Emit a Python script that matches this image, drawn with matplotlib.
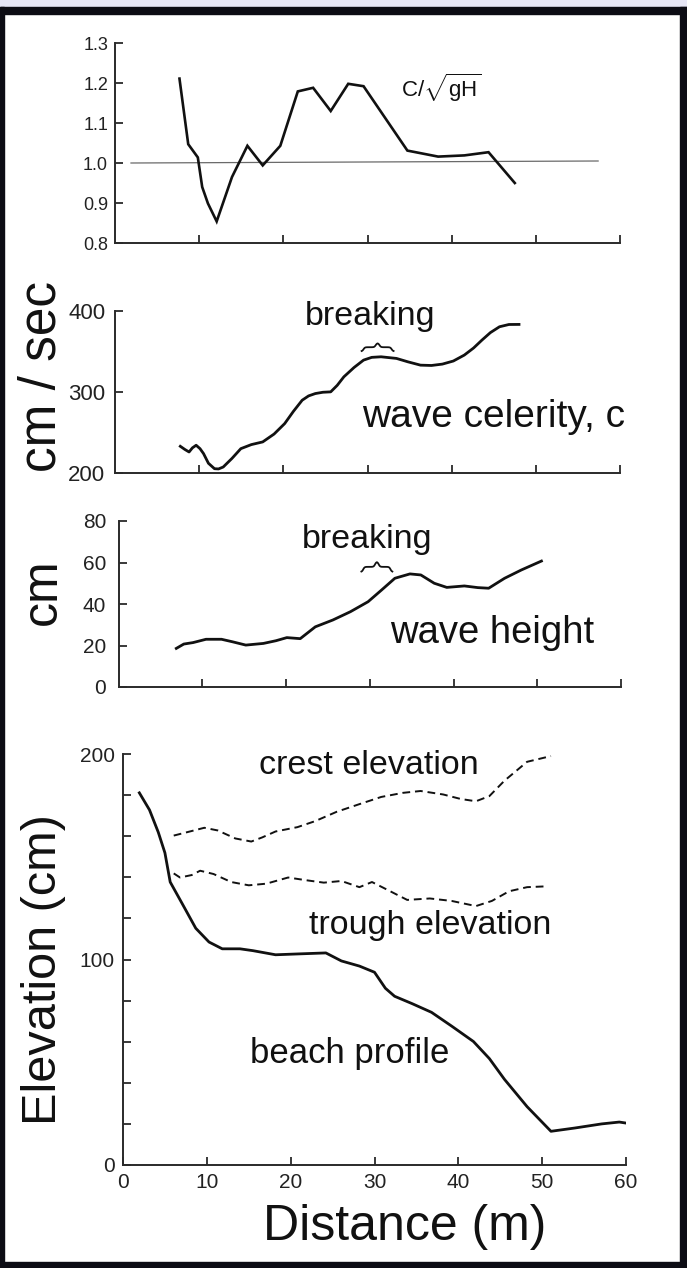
import numpy as np
import matplotlib.pyplot as plt
from matplotlib.patches import Rectangle

plt.rcParams['font.family'] = ['Liberation Sans', 'DejaVu Sans']
plt.rcParams['mathtext.fontset'] = 'custom'
plt.rcParams['mathtext.rm'] = 'Liberation Sans'

# C / sqrt(gH)
ratio_x = [7.66, 8.7, 9.84, 10.36, 11.04, 12.08, 13.9, 15.73, 17.55, 19.64, 21.72,
           23.54, 25.63, 27.71, 29.53, 34.74, 38.39, 41.51, 44.38, 47.5]
ratio_y = [1.211, 1.047, 1.014, 0.940, 0.899, 0.854, 0.965, 1.043, 0.994, 1.043, 1.179,
           1.188, 1.130, 1.198, 1.192, 1.031, 1.016, 1.019, 1.027, 0.950]
ref_x = [1.9, 57.4]
ref_y = [1.0, 1.005]

# wave celerity (cm/sec)
celer_x = [7.76, 8.3, 8.8, 9.2, 9.64, 10.1, 10.52, 11.1, 11.82, 12.3, 12.86, 13.9, 14.95,
           16.2, 17.55, 18.9, 20.16, 21.2, 22.24, 23.0, 23.8, 24.7, 25.63, 26.4, 27.19,
           28.4, 29.53, 30.5, 31.61, 33.44, 34.8, 36.3, 37.6, 38.9, 40.2, 41.5, 42.6,
           43.6, 44.6, 45.68, 46.8, 48.0]
celer_y = [232.9, 229.0, 225.9, 231.0, 234.2, 230.0, 223.9, 212.0, 205.3, 205.0, 207.4,
           218.0, 230.0, 235.0, 238.3, 248.0, 260.9, 276.0, 289.7, 295.0, 297.9, 299.5,
           300.0, 308.0, 318.5, 330.0, 339.1, 342.5, 343.2, 341.2, 337.0, 332.9, 332.5,
           334.2, 338.0, 345.3, 354.0, 363.8, 373.0, 380.2, 383.0, 383.1]

# wave height (cm)
height_x = [6.9, 7.8, 8.9, 10.45, 12.3, 13.6, 15.2, 17.3, 18.8, 20.1, 21.7, 23.5, 25.6,
            27.7, 29.8, 31.4, 33.0, 34.8, 36.1, 37.7, 39.2, 41.3, 42.9, 44.2, 46.1, 48.1, 50.5]
height_y = [18.6, 20.7, 21.4, 23.0, 23.0, 21.8, 20.2, 21.0, 22.3, 23.8, 23.3, 29.0, 32.3,
            36.3, 41.1, 46.7, 52.4, 54.5, 54.0, 50.0, 48.0, 48.7, 47.9, 47.6, 52.4, 56.4, 60.7]

# beach profile, crest and trough elevation (cm)
beach_x = [1.95, 3.16, 4.21, 5.0, 5.63, 7.1, 8.68, 10.26, 11.84, 13.95, 15.5, 18.2, 20.8,
           24.2, 26.05, 28.2, 30.0, 31.3, 32.4, 34.5, 36.8, 39.2, 41.8, 43.7, 45.5, 48.2,
           51.05, 53.9, 57.1, 59.2, 60.0]
beach_y = [181.1, 172.8, 161.9, 151.9, 137.7, 126.9, 115.2, 108.5, 105.2, 105.2, 104.3,
           102.3, 102.7, 103.2, 99.3, 96.8, 93.8, 86.0, 82.1, 78.5, 74.3, 67.6, 60.1, 51.8,
           41.7, 28.4, 16.4, 18.0, 20.0, 20.9, 20.4]
crest_x = [6.05, 7.6, 9.7, 11.3, 13.4, 15.3, 16.6, 18.2, 20.8, 22.9, 25.5, 28.2, 30.8,
           33.4, 35.5, 38.2, 40.3, 42.1, 43.7, 45.5, 48.2, 51.05]
crest_y = [160.3, 161.9, 164.1, 162.8, 158.9, 157.4, 159.4, 162.3, 164.4, 167.3, 171.9,
           175.6, 179.1, 181.1, 182.0, 180.3, 178.1, 177.0, 179.5, 187.0, 196.2, 199.0]
trough_x = [6.05, 6.8, 8.2, 9.2, 10.8, 12.9, 15.0, 17.1, 19.7, 21.8, 23.95, 26.05, 28.2,
            29.7, 31.3, 33.9, 36.6, 39.2, 42.1, 44.0, 46.05, 48.2, 50.5]
trough_y = [141.9, 139.9, 141.1, 143.2, 141.6, 137.7, 136.1, 136.9, 139.9, 138.6, 137.4,
            138.2, 135.2, 137.7, 134.4, 129.0, 129.7, 128.5, 126.0, 128.5, 133.2, 135.2, 135.6]

ratio_ticks = [0.8, 0.9, 1.0, 1.1, 1.2, 1.3]
ratio_labels = ['0.8', '0.9', '1.0', '1.1', '1.2', '1.3']
celer_ticks = [200, 300, 400]
height_ticks = [0, 20, 40, 60, 80]
elev_ticks = [0, 20, 40, 60, 80, 100, 120, 140, 160, 180, 200]
elev_labels = ['0', '', '', '', '', '100', '', '', '', '', '200']
dist_ticks = [0, 10, 20, 30, 40, 50, 60]

W, H = 687, 1268
ink = '#111111'
axc = '#2a2a2a'


def box(left, top, right, bottom):
    return [left / W, 1 - bottom / H, (right - left) / W, (bottom - top) / H]


def style(ax, ylim, yticks, ylabels, fs, pad):
    ax.set_xlim(0, 60)
    ax.set_ylim(*ylim)
    for s in ['top', 'right']:
        ax.spines[s].set_visible(False)
    for s in ['left', 'bottom']:
        ax.spines[s].set_linewidth(1.4)
        ax.spines[s].set_color(axc)
    ax.set_yticks(yticks)
    ax.set_yticklabels(ylabels)
    ax.tick_params(direction='in', length=6, width=1.3, color=axc,
                   labelsize=fs, labelcolor='#222222')
    ax.tick_params(axis='y', pad=pad)
    ax.patch.set_alpha(0)


def brace(ax, x0, x1, y0, h):
    # small curly brace, opening downward
    t = np.linspace(0, 1, 121)
    half = np.where(t < 0.5, t, 1 - t)
    sig = lambda z: 1 / (1 + np.exp(-z))
    yy = y0 + h * (sig(45 * (half - 0.06)) + sig(45 * (half - 0.44))) / 2
    ax.plot(x0 + (x1 - x0) * t, yy, color=ink, lw=1.3, clip_on=False)


fig = plt.figure(figsize=(W / 100, H / 100), dpi=100)
fig.patch.set_facecolor('white')

# frame
fig.add_artist(Rectangle((0, 1 - 7 / H), 1, 7 / H, transform=fig.transFigure,
                         color='#e6e6f6', zorder=0))
for r in [(0, 1 - 14 / H, 1, 7 / H), (0, 0, 1, 6 / H), (0, 0, 4 / W, 1 - 7 / H),
          (680 / W, 0, 7 / W, 1 - 7 / H)]:
    fig.add_artist(Rectangle(r[:2], r[2], r[3], transform=fig.transFigure,
                             color='#0c0c14', zorder=0))

# panel 1: C / sqrt(gH)
ax1 = fig.add_axes(box(115, 43, 620, 243))
style(ax1, (0.8, 1.3), ratio_ticks, ratio_labels, 13, 5)
ax1.set_xticks(dist_ticks[1:])
ax1.set_xticklabels([])
ax1.plot(ref_x, ref_y, color='#6a6a6a', lw=0.9)
ax1.plot(ratio_x, ratio_y, color=ink, lw=1.9, solid_joinstyle='miter')
ax1.text(34.0, 1.166, r'C/$\sqrt{\mathrm{gH}}$', fontsize=16, color=ink)

# panel 2: wave celerity
ax2 = fig.add_axes(box(115, 310.7, 620, 473))
style(ax2, (200, 400), celer_ticks, [str(v) for v in celer_ticks], 16, 7)
ax2.set_xticks(dist_ticks[1:])
ax2.set_xticklabels([])
ax2.plot(celer_x, celer_y, color=ink, lw=2.0, solid_joinstyle='round')
ax2.text(22.5, 382.5, 'breaking', fontsize=24.5, color=ink)
brace(ax2, 29.3, 33.1, 350, 10)
ax2.text(29.3, 256.4, 'wave celerity, c', fontsize=28, color=ink)

# panel 3: wave height
ax3 = fig.add_axes(box(118.5, 521, 621, 687))
style(ax3, (0, 80), height_ticks, [str(v) for v in height_ticks], 15, 9)
ax3.set_xticks(dist_ticks[1:])
ax3.set_xticklabels([])
ax3.plot(height_x, height_y, color=ink, lw=2.0, solid_joinstyle='round')
ax3.text(21.9, 67, 'breaking', fontsize=24.5, color=ink)
brace(ax3, 29.0, 32.7, 55.5, 4.8)
ax3.text(32.4, 21.2, 'wave height', fontsize=27.5, color=ink)

# panel 4: elevation
ax4 = fig.add_axes(box(123, 754, 626, 1165))
style(ax4, (0, 200), elev_ticks, elev_labels, 15, 6)
ax4.set_xticks(dist_ticks)
ax4.set_xticklabels([str(v) for v in dist_ticks])
ax4.tick_params(axis='x', pad=6)
ax4.plot(beach_x, beach_y, color=ink, lw=2.0, solid_joinstyle='round')
ax4.plot(crest_x, crest_y, color=ink, lw=1.4, linestyle=(0, (4, 2.5)))
ax4.plot(trough_x, trough_y, color=ink, lw=1.4, linestyle=(0, (4, 2.5)))
ax4.text(16.2, 190.5, 'crest elevation', fontsize=24.5, color=ink)
ax4.text(22.2, 112.3, 'trough elevation', fontsize=24.5, color=ink)
ax4.text(15.2, 49.4, 'beach profile', fontsize=25, color=ink)

# axis titles
for label, yc, fs in [('cm / sec', 377, 37), ('cm', 592, 36), ('Elevation (cm)', 970, 35)]:
    fig.text(56 / W, 1 - yc / H, label, rotation=90, rotation_mode='anchor',
             ha='center', va='baseline', fontsize=fs, color=ink)
fig.text(405 / W, 1 - 1240 / H, 'Distance (m)', ha='center', va='baseline',
         fontsize=36, color=ink)

fig.savefig('out.png', dpi=100)
